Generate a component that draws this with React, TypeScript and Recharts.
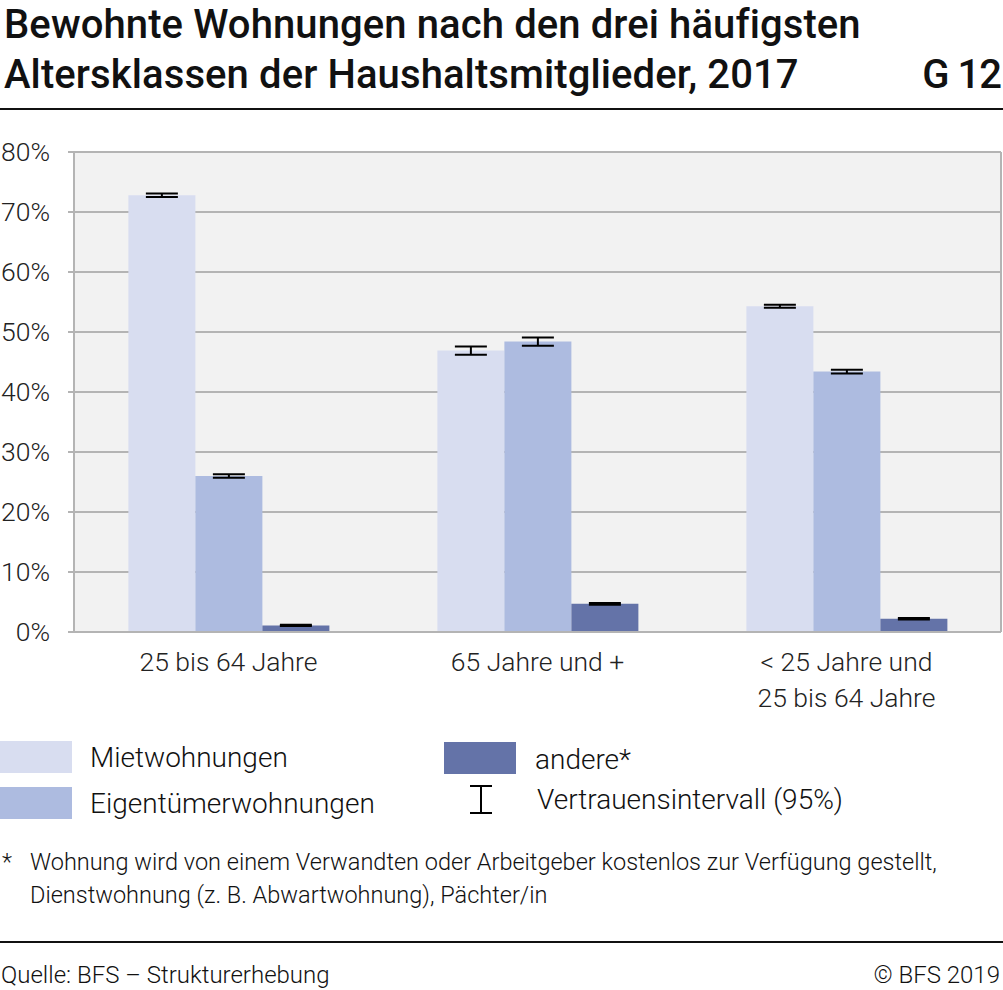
import { Bar, BarChart, CartesianGrid, ErrorBar, XAxis, YAxis } from "recharts";

const categories = ["25 bis 64 Jahre", "65 Jahre und +", "< 25 Jahre und\n25 bis 64 Jahre"];
const mietwohnungen = [72.8, 46.9, 54.3];
const mietErr = [0.3, 0.7, 0.25];
const eigentuemer = [26.0, 48.4, 43.4];
const eigentuemerErr = [0.3, 0.7, 0.3];
const andere = [1.1, 4.7, 2.2];
const andereErr = [0.12, 0.15, 0.12];
const yTicks = [0, 10, 20, 30, 40, 50, 60, 70, 80];

const COLORS = { miet: "#d8ddf0", eigen: "#adbbe0", andere: "#6473a8" };
const GRID = "#b4b4b4";
const FONT = "Roboto, sans-serif";

const data = categories.map((c, i) => ({
  category: c,
  miet: mietwohnungen[i],
  mietErr: mietErr[i],
  eigen: eigentuemer[i],
  eigenErr: eigentuemerErr[i],
  andere: andere[i],
  andereErr: andereErr[i],
}));

function CategoryTick(props: any) {
  const { x, y, payload } = props;
  const lines = String(payload.value).split("\n");
  return (
    <text x={x} y={y} textAnchor="middle" fill="#222" fontSize={26.5} fontWeight={300} fontFamily={FONT}>
      {lines.map((l, i) => (
        <tspan key={i} x={x} dy={i === 0 ? 31 : 36}>
          {l}
        </tspan>
      ))}
    </text>
  );
}

function Swatch({ color }: { color: string }) {
  return <div style={{ width: 72, height: 32, background: color }} />;
}

export default function App() {
  const text = { fontFamily: FONT, color: "#111" };
  const title = { position: "absolute" as const, fontSize: 40, fontWeight: 500, lineHeight: "42px", whiteSpace: "nowrap" as const };
  const legendText = { position: "absolute" as const, fontSize: 28, fontWeight: 300, lineHeight: "34px" };
  return (
    <div style={{ position: "absolute", left: 0, top: 0, width: 1003, height: 990, background: "#fff", ...text }}>
      <div style={{ ...title, left: 4, top: 4, letterSpacing: 0.1 }}>Bewohnte Wohnungen nach den drei häufigsten</div>
      <div style={{ ...title, left: 4, top: 54, letterSpacing: 0.1 }}>Altersklassen der Haushaltsmitglieder, 2017</div>
      <div style={{ ...title, right: 2, top: 54, letterSpacing: -1 }}>G 12</div>
      <div style={{ position: "absolute", left: 0, top: 108, width: 1003, height: 2, background: "#111" }} />

      <div style={{ position: "absolute", left: 0, top: 0 }}>
        <BarChart
          width={1003}
          height={720}
          data={data}
          margin={{ top: 152, right: 1, bottom: 28, left: 0 }}
          barCategoryGap="17.6%"
          barGap={0}
        >
          <CartesianGrid fill="#f2f2f2" vertical={false} stroke={GRID} strokeWidth={2} yAxisId="l" />
          <XAxis
            dataKey="category"
            height={60}
            tickLine={false}
            axisLine={{ stroke: GRID, strokeWidth: 2 }}
            tick={<CategoryTick />}
            interval={0}
          />
          <YAxis
            yAxisId="l"
            width={74}
            domain={[0, 80]}
            ticks={yTicks}
            tickFormatter={(v) => `${v}%`}
            axisLine={{ stroke: GRID, strokeWidth: 2 }}
            tickLine={{ stroke: GRID, strokeWidth: 2 }}
            tickSize={6}
            tickMargin={18}
            tick={{ fill: "#222", fontSize: 26.5, fontWeight: 300, fontFamily: FONT }}
          />
          <YAxis
            yAxisId="r"
            orientation="right"
            width={1}
            domain={[0, 80]}
            tick={false}
            tickLine={false}
            axisLine={{ stroke: GRID, strokeWidth: 2 }}
          />
          <Bar yAxisId="l" dataKey="miet" fill={COLORS.miet} isAnimationActive={false}>
            <ErrorBar dataKey="mietErr" width={16} strokeWidth={2} stroke="#000" direction="y" />
          </Bar>
          <Bar yAxisId="l" dataKey="eigen" fill={COLORS.eigen} isAnimationActive={false}>
            <ErrorBar dataKey="eigenErr" width={16} strokeWidth={2} stroke="#000" direction="y" />
          </Bar>
          <Bar yAxisId="l" dataKey="andere" fill={COLORS.andere} isAnimationActive={false}>
            <ErrorBar dataKey="andereErr" width={16} strokeWidth={2} stroke="#000" direction="y" />
          </Bar>
        </BarChart>
      </div>

      {/* legend */}
      <div style={{ position: "absolute", left: 0, top: 741 }}>
        <Swatch color={COLORS.miet} />
      </div>
      <div style={{ ...legendText, left: 90, top: 741 }}>Mietwohnungen</div>
      <div style={{ position: "absolute", left: 0, top: 787 }}>
        <Swatch color={COLORS.eigen} />
      </div>
      <div style={{ ...legendText, left: 90, top: 787 }}>Eigentümerwohnungen</div>
      <div style={{ position: "absolute", left: 444, top: 742 }}>
        <Swatch color={COLORS.andere} />
      </div>
      <div style={{ ...legendText, left: 535, top: 743 }}>andere*</div>
      <svg style={{ position: "absolute", left: 466, top: 784 }} width={30} height={32}>
        <line x1={4} x2={26} y1={2} y2={2} stroke="#000" strokeWidth={2} />
        <line x1={15} x2={15} y1={2} y2={29} stroke="#000" strokeWidth={2} />
        <line x1={4} x2={26} y1={29} y2={29} stroke="#000" strokeWidth={2} />
      </svg>
      <div style={{ ...legendText, left: 537, top: 783 }}>Vertrauensintervall (95%)</div>

      {/* footnote */}
      <div style={{ position: "absolute", left: 2, top: 846, fontSize: 23.5, fontWeight: 300, lineHeight: "33px" }}>*</div>
      <div style={{ position: "absolute", left: 30, top: 846, fontSize: 23.5, fontWeight: 300, lineHeight: "33px" }}>
        Wohnung wird von einem Verwandten oder Arbeitgeber kostenlos zur Verfügung gestellt,
        <br />
        Dienstwohnung (z. B. Abwartwohnung), Pächter/in
      </div>

      <div style={{ position: "absolute", left: 0, top: 941, width: 1003, height: 2, background: "#111" }} />
      <div style={{ position: "absolute", left: 1, top: 959, fontSize: 24, fontWeight: 300, lineHeight: "32px" }}>
        Quelle: BFS – Strukturerhebung
      </div>
      <div style={{ position: "absolute", right: 3, top: 959, fontSize: 24, fontWeight: 300, lineHeight: "32px" }}>
        © BFS 2019
      </div>
    </div>
  );
}
